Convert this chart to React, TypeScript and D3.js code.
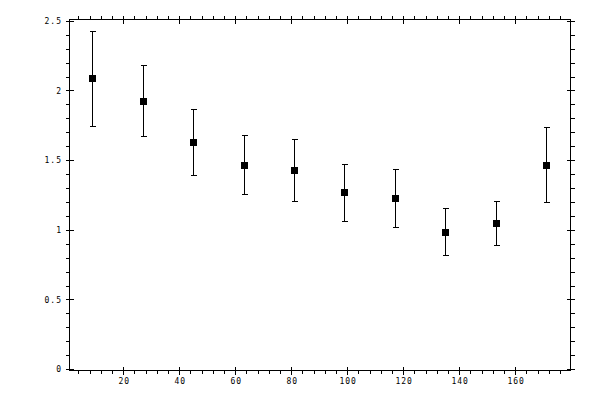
import * as d3 from "d3";
import React, { useEffect, useRef } from "react";

// data
const xValues = [9, 27, 45, 63, 81, 99, 117, 135, 153, 171];
const yValues = [2.091, 1.926, 1.632, 1.467, 1.431, 1.273, 1.23, 0.986, 1.05, 1.467];
const yLow = [1.747, 1.675, 1.395, 1.258, 1.208, 1.065, 1.022, 0.821, 0.892, 1.201];
const yHigh = [2.429, 2.185, 1.869, 1.682, 1.653, 1.474, 1.438, 1.155, 1.208, 1.739];

const xMajorTicks = [20, 40, 60, 80, 100, 120, 140, 160];
const yMajorTicks = [0, 0.5, 1, 1.5, 2, 2.5];
const yTickLabels = ["0", "0.5", "1", "1.5", "2", "2.5"];

const App: React.FC = () => {
  const svgRef = useRef<SVGSVGElement>(null);

  useEffect(() => {
    if (!svgRef.current) return;
    const svg = d3.select(svgRef.current);
    svg.selectAll("*").remove();

    const width = 600;
    const height = 400;
    const box = { left: 69.5, right: 570.5, top: 19.5, bottom: 370.5 };

    const x = d3.scaleLinear().domain([0, 180]).range([67.7, 571.7]);
    const y = d3.scaleLinear().domain([0, 2.5]).range([369.6, 21.35]);
    const px = (v: number) => Math.round(x(v) - 0.5) + 0.5;
    const py = (v: number) => Math.round(y(v) - 0.5) + 0.5;

    svg.attr("width", width).attr("height", height);

    const g = svg
      .append("g")
      .attr("stroke", "#000")
      .attr("stroke-width", 1)
      .attr("shape-rendering", "crispEdges");

    // frame
    g.append("rect")
      .attr("x", box.left)
      .attr("y", box.top)
      .attr("width", box.right - box.left)
      .attr("height", box.bottom - box.top)
      .attr("fill", "none");

    const xMinor = d3.range(4, 180, 4).filter((v) => v % 20 !== 0);
    const yMinor = d3
      .range(1, 25)
      .filter((i) => i % 5 !== 0)
      .map((i) => i / 10);

    // x ticks, bottom and top
    xMajorTicks.forEach((v) => {
      g.append("line").attr("x1", px(v)).attr("x2", px(v)).attr("y1", box.bottom - 4).attr("y2", box.bottom + 4);
      g.append("line").attr("x1", px(v)).attr("x2", px(v)).attr("y1", box.top - 4).attr("y2", box.top + 4);
    });
    xMinor.forEach((v) => {
      g.append("line").attr("x1", px(v)).attr("x2", px(v)).attr("y1", box.bottom).attr("y2", box.bottom + 3);
      g.append("line").attr("x1", px(v)).attr("x2", px(v)).attr("y1", box.top - 4).attr("y2", box.top);
    });

    // y ticks, left and right
    yMajorTicks.forEach((v) => {
      g.append("line").attr("y1", py(v)).attr("y2", py(v)).attr("x1", box.left - 4).attr("x2", box.left + 4);
      g.append("line").attr("y1", py(v)).attr("y2", py(v)).attr("x1", box.right - 4).attr("x2", box.right + 4);
    });
    yMinor.forEach((v) => {
      g.append("line").attr("y1", py(v)).attr("y2", py(v)).attr("x1", box.left - 4).attr("x2", box.left);
      g.append("line").attr("y1", py(v)).attr("y2", py(v)).attr("x1", box.right).attr("x2", box.right + 4);
    });

    const labels = svg
      .append("g")
      .attr("font-family", "'DejaVu Sans Mono', monospace")
      .attr("font-size", 8)
      .attr("letter-spacing", 1)
      .attr("fill", "#000");

    labels
      .selectAll(".xl")
      .data(xMajorTicks)
      .enter()
      .append("text")
      .attr("x", (d) => x(d) + 0.5)
      .attr("y", 384)
      .attr("text-anchor", "middle")
      .text((d) => String(d));

    labels
      .selectAll(".yl")
      .data(yMajorTicks)
      .enter()
      .append("text")
      .attr("x", 62)
      .attr("y", (d) => y(d))
      .attr("dy", "0.35em")
      .attr("text-anchor", "end")
      .text((_, i) => yTickLabels[i]);

    // error bars
    const bars = svg
      .append("g")
      .attr("stroke", "#000")
      .attr("stroke-width", 1)
      .attr("shape-rendering", "crispEdges");

    xValues.forEach((xv, i) => {
      const cx = px(xv);
      bars.append("line").attr("x1", cx).attr("x2", cx).attr("y1", py(yHigh[i])).attr("y2", py(yLow[i]));
      bars.append("line").attr("x1", cx - 2.5).attr("x2", cx + 3).attr("y1", py(yHigh[i])).attr("y2", py(yHigh[i]));
      bars.append("line").attr("x1", cx - 2.5).attr("x2", cx + 3).attr("y1", py(yLow[i])).attr("y2", py(yLow[i]));
    });

    // square markers
    svg
      .append("g")
      .selectAll("rect")
      .data(xValues)
      .enter()
      .append("rect")
      .attr("x", (d) => px(d) - 3.5)
      .attr("y", (_, i) => py(yValues[i]) - 3.5)
      .attr("width", 7)
      .attr("height", 7)
      .attr("fill", "#000")
      .attr("shape-rendering", "crispEdges");
  }, []);

  return (
    <svg
      ref={svgRef}
      style={{ position: "absolute", left: 0, top: 0, display: "block", background: "#fff" }}
    ></svg>
  );
};

export default App;
